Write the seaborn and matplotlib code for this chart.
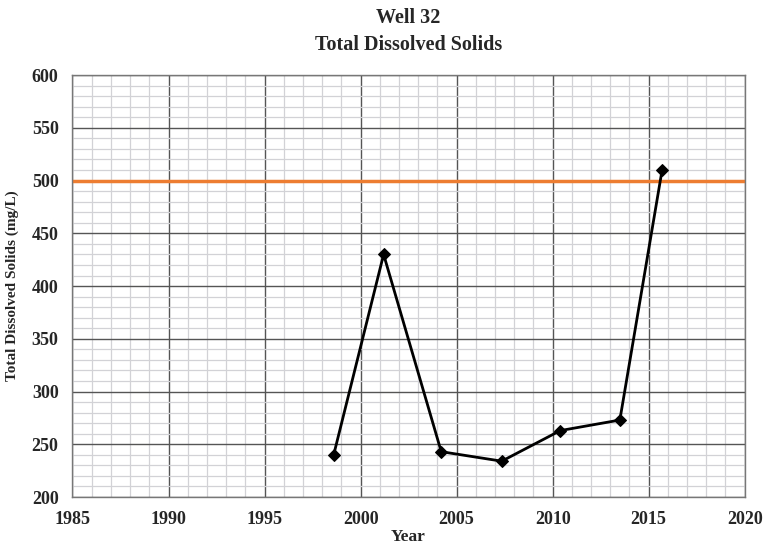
import matplotlib
matplotlib.use("Agg")
import matplotlib.pyplot as plt
import seaborn as sns
import pandas as pd
from matplotlib.ticker import MultipleLocator

years = [1998.6, 2001.2, 2004.2, 2007.35, 2010.4, 2013.5, 2015.7]
tds = [240, 430, 243, 234, 263, 273, 510]
limit = 500
title = "Well 32\nTotal Dissolved Solids"
xlabel = "Year"
ylabel = "Total Dissolved Solids (mg/L)"
xticks = [1985, 1990, 1995, 2000, 2005, 2010, 2015, 2020]
yticks = [200, 250, 300, 350, 400, 450, 500, 550, 600]

sns.set_theme(style="white")
plt.rcParams['font.family'] = ['Liberation Serif', 'DejaVu Serif']

df = pd.DataFrame({"Year": years, "TDS": tds})

fig = plt.figure(figsize=(7.63, 5.48), dpi=100)
ax = fig.add_axes([0.095, 0.093, 0.881, 0.77])

ax.set_xlim(1985, 2020)
ax.set_ylim(200, 600)
ax.xaxis.set_minor_locator(MultipleLocator(1))
ax.yaxis.set_minor_locator(MultipleLocator(10))
ax.grid(which="minor", color="#d2d2d6", linewidth=0.9)
ax.grid(which="major", color="#555555", linewidth=1.0)
ax.set_axisbelow(True)

ax.axhline(limit, color="#ED7D31", linewidth=2.5, zorder=2)
sns.lineplot(data=df, x="Year", y="TDS", ax=ax, color="black", linewidth=2,
             marker="D", markersize=6, markeredgecolor="black", zorder=3)

for s in ax.spines.values():
    s.set_color("#777777")
    s.set_linewidth(1)

ax.set_xticks(xticks)
ax.set_xticklabels([str(v) for v in xticks], fontweight="bold", fontsize=13)
ax.set_yticks(yticks)
ax.set_yticklabels([str(v) for v in yticks], fontweight="bold", fontsize=13)
ax.tick_params(axis="x", which="both", length=0, pad=10)
ax.tick_params(axis="y", which="both", length=0, pad=10)

ax.set_xlabel(xlabel, fontweight="bold", fontsize=12.5, labelpad=1)
ax.set_ylabel(ylabel, fontweight="bold", fontsize=11, labelpad=9)
ax.set_title(title, fontweight="bold", fontsize=14.5, pad=18, linespacing=1.45)

fig.savefig("out.png", dpi=100, facecolor="white")
